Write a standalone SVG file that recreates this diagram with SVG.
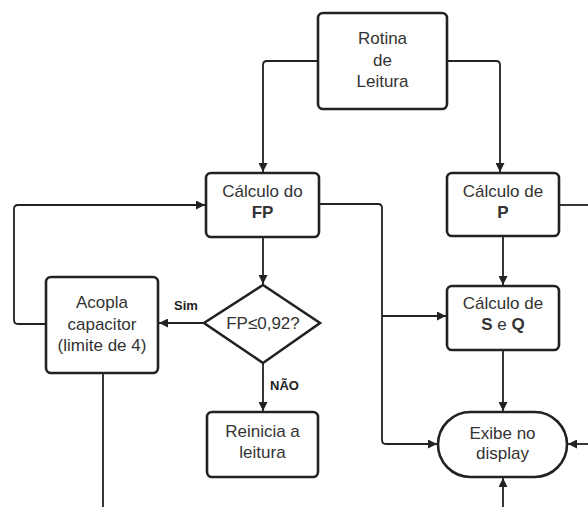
<svg xmlns="http://www.w3.org/2000/svg" width="588" height="507" viewBox="0 0 588 507">
<style>
.box{fill:#fff;stroke:#222;stroke-width:2.6}
.t{font-family:"Liberation Sans",Arial,sans-serif;font-size:17px;fill:#333;text-anchor:middle}
.b{font-weight:bold}
.lbl{font-family:"Liberation Sans",Arial,sans-serif;font-size:13px;font-weight:bold;fill:#222}
.c{fill:none;stroke:#222;stroke-width:1.8;stroke-linejoin:round}
</style>
<defs>
<marker id="ah" viewBox="0 0 10 10" refX="10" refY="5" markerWidth="9" markerHeight="9" markerUnits="userSpaceOnUse" orient="auto">
<path d="M0,0 L10,5 L0,10 z" fill="#222"/>
</marker>
</defs>
<rect width="588" height="507" fill="#fff"/>
<g id="connectors">
<path class="c" d="M318,61 H267 Q263,61 263,65 V172" marker-end="url(#ah)"/>
<path class="c" d="M447,61 H496 Q500,61 500,65 V172" marker-end="url(#ah)"/>
<path class="c" d="M263,237 V284" marker-end="url(#ah)"/>
<path class="c" d="M204,323 H159" marker-end="url(#ah)"/>
<path class="c" d="M263,363 V411" marker-end="url(#ah)"/>
<path class="c" d="M46,324 H18 Q14,324 14,320 V209 Q14,205 18,205 H205" marker-end="url(#ah)"/>
<path class="c" d="M103,373 V507"/>
<path class="c" d="M319,204 H378 Q382,204 382,208 V440 Q382,444 386,444 H437" marker-end="url(#ah)"/>
<path class="c" d="M382,316 H446" marker-end="url(#ah)"/>
<path class="c" d="M559,205 H588"/>
<path class="c" d="M503,236 V285" marker-end="url(#ah)"/>
<path class="c" d="M503,350 V411" marker-end="url(#ah)"/>
<path class="c" d="M588,444 H568" marker-end="url(#ah)"/>
<path class="c" d="M503,507 V478" marker-end="url(#ah)"/>
<text class="lbl" x="174" y="310">Sim</text>
<text class="lbl" x="270" y="390">NÃO</text>
</g>
<g id="rotina">
<rect class="box" x="318" y="13" width="129" height="96" rx="5"/>
<text class="t" x="382.5" y="44">Rotina</text>
<text class="t" x="382.5" y="66">de</text>
<text class="t" x="382.5" y="87">Leitura</text>
</g>
<g id="calc-fp">
<rect class="box" x="206" y="173" width="113" height="64" rx="5"/>
<text class="t" x="262.5" y="197">Cálculo do</text>
<text class="t b" x="262.5" y="218">FP</text>
</g>
<g id="decisao">
<polygon class="box" points="263,285 320,323 263,363 204,323"/>
<text class="t" x="263" y="329">FP≤0,92?</text>
</g>
<g id="acopla">
<rect class="box" x="46" y="277" width="112" height="96" rx="5"/>
<text class="t" x="102" y="308">Acopla</text>
<text class="t" x="102" y="330">capacitor</text>
<text class="t" x="102" y="351">(limite de 4)</text>
</g>
<g id="reinicia">
<rect class="box" x="207" y="412" width="111" height="65" rx="5"/>
<text class="t" x="262.5" y="437">Reinicia a</text>
<text class="t" x="262.5" y="458">leitura</text>
</g>
<g id="calc-p">
<rect class="box" x="447" y="173" width="112" height="63" rx="5"/>
<text class="t" x="503" y="197">Cálculo de</text>
<text class="t b" x="503" y="218">P</text>
</g>
<g id="calc-sq">
<rect class="box" x="447" y="286" width="112" height="64" rx="5"/>
<text class="t" x="503" y="309">Cálculo de</text>
<text class="t" x="503" y="330"><tspan class="b">S</tspan> e <tspan class="b">Q</tspan></text>
</g>
<g id="exibe">
<rect class="box" x="438" y="412" width="129" height="65" rx="32.5"/>
<text class="t" x="502.5" y="439">Exibe no</text>
<text class="t" x="502.5" y="459">display</text>
</g>
</svg>
